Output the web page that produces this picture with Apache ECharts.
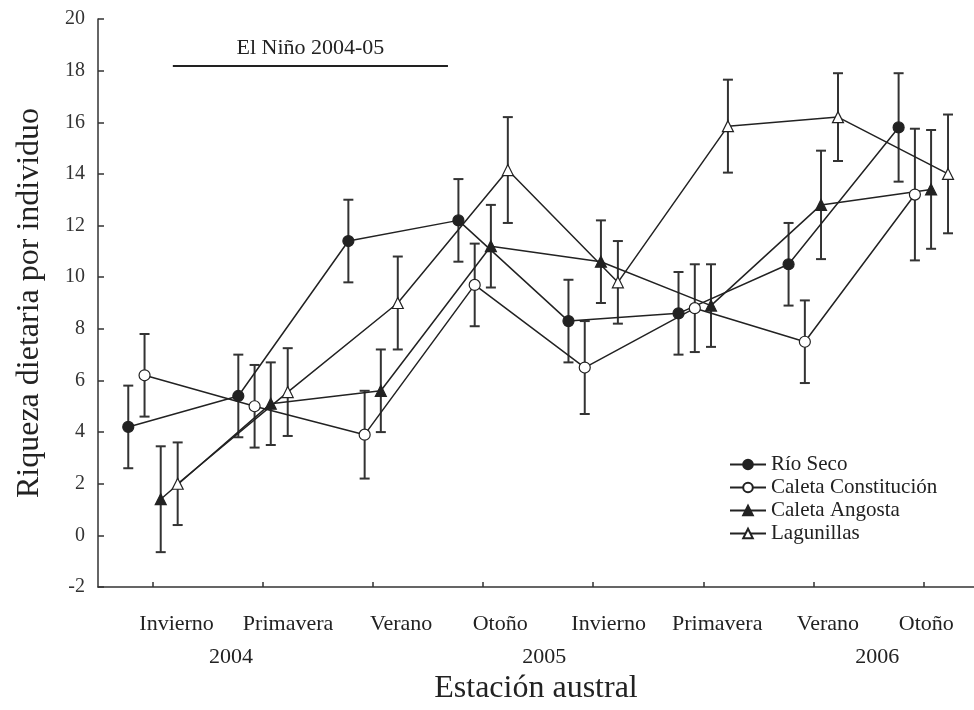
<!DOCTYPE html>
<html>
<head>
<meta charset="utf-8">
<script src="https://cdn.jsdelivr.net/npm/echarts@6/dist/echarts.min.js"></script>
<style>html,body{margin:0;padding:0;background:#fff}#c{width:974px;height:710px}</style>
</head>
<body>
<div id="c"></div>
<script>
// ---- data ----
const seasons = ['Invierno','Primavera','Verano','Otoño','Invierno','Primavera','Verano','Otoño'];
const years = ['2004','2005','2006'];
const seriesNames = ['Río Seco','Caleta Constitución','Caleta Angosta','Lagunillas'];
const rioSeco      = [4.2, 5.4, 11.4, 12.2, 8.3, 8.6, 10.5, 15.8];
const rioSecoSE    = [1.6, 1.6, 1.6, 1.6, 1.6, 1.6, 1.6, 2.1];
const caletaConst  = [6.2, 5.0, 3.9, 9.7, 6.5, 8.8, 7.5, 13.2];
const caletaConstSE= [1.6, 1.6, 1.7, 1.6, 1.8, 1.7, 1.6, 2.55];
const caletaAng    = [1.4, 5.1, 5.6, 11.2, 10.6, 8.9, 12.8, 13.4];
const caletaAngSE  = [2.05, 1.6, 1.6, 1.6, 1.6, 1.6, 2.1, 2.3];
const lagunillas   = [2.0, 5.55, 9.0, 14.15, 9.8, 15.85, 16.2, 14.0];
const lagunillasSE = [1.6, 1.7, 1.8, 2.05, 1.6, 1.8, 1.7, 2.3];
const ninoLabel = 'El Niño 2004-05';
const ninoSpan = [0.18, 2.68];   // period along the season axis
const ninoLevel = 18.2;
const yTicksMin = -2, yTicksMax = 20, yTicksStep = 2;

// ---- layout constants ----
const dodge = [-0.225, -0.077, 0.07, 0.224];
const seasonLabelPos = [0.214, 1.227, 2.255, 3.155, 4.14, 5.127, 6.132, 7.027];
const yearLabelPos = [0.709, 3.555, 6.58];
const FONT = '"Liberation Serif", "DejaVu Serif", serif';
const INK = '#222';

const means = [rioSeco, caletaConst, caletaAng, lagunillas];
const ses = [rioSecoSE, caletaConstSE, caletaAngSE, lagunillasSE];
const symbols = ['circle','circle','triangle','triangle'];
const fills = [INK, '#fff', INK, '#fff'];

function nearestLabel(v, pos, labels){
  let best = 0, d = Infinity;
  pos.forEach((p,i)=>{ if (Math.abs(p-v) < d){ d = Math.abs(p-v); best = i; } });
  return labels[best];
}

const xMin = -0.5, xMax = 7.46;
const series = [];
means.forEach((arr, s) => {
  series.push({
    type: 'custom',
    xAxisIndex: 0,
    silent: true,
    z: 2,
    data: arr.map((v,i)=>[i + dodge[s], v - ses[s][i], v + ses[s][i]]),
    encode: {x: 0, y: [1, 2]},
    renderItem: function(params, api){
      const x = api.value(0);
      const lo = api.coord([x, api.value(1)]);
      const hi = api.coord([x, api.value(2)]);
      const w = 5;
      const st = {stroke: '#333', lineWidth: 2};
      return {type: 'group', children: [
        {type: 'line', shape: {x1: lo[0], y1: lo[1], x2: hi[0], y2: hi[1]}, style: st},
        {type: 'line', shape: {x1: lo[0]-w, y1: lo[1], x2: lo[0]+w, y2: lo[1]}, style: st},
        {type: 'line', shape: {x1: hi[0]-w, y1: hi[1], x2: hi[0]+w, y2: hi[1]}, style: st}
      ]};
    }
  });
});
means.forEach((arr, s) => {
  const ser = {
    name: seriesNames[s],
    type: 'line',
    xAxisIndex: 0,
    z: 3,
    data: arr.map((v,i)=>[i + dodge[s], v]),
    symbol: symbols[s],
    symbolSize: 11,
    showAllSymbol: true,
    lineStyle: {color: INK, width: 1.5},
    itemStyle: {color: fills[s], borderColor: INK, borderWidth: 1.2, opacity: 1}
  };
  if (s === 0) {
    ser.markLine = {
      silent: true,
      symbol: ['none','none'],
      lineStyle: {color: INK, width: 2, type: 'solid'},
      label: {show: true, formatter: ninoLabel, position: 'insideMiddleTop', distance: 6,
              fontFamily: FONT, fontSize: 22, color: INK},
      data: [[{coord: [ninoSpan[0], ninoLevel]}, {coord: [ninoSpan[1], ninoLevel]}]]
    };
  }
  series.push(ser);
});

const chart = echarts.init(document.getElementById('c'), null, {renderer: 'canvas'});
chart.setOption({
  animation: false,
  backgroundColor: '#fff',
  grid: {left: 98, right: 0, top: 19, bottom: 119},
  legend: {
    orient: 'vertical', left: 729, top: 454, padding: 0,
    itemWidth: 36, itemHeight: 12, itemGap: 2,
    textStyle: {fontFamily: FONT, fontSize: 21, color: INK, lineHeight: 21},
    data: seriesNames
  },
  xAxis: [
    {
      type: 'value', min: xMin, max: xMax, position: 'bottom',
      axisLine: {show: true, onZero: false, lineStyle: {color: '#333', width: 1.5}},
      axisTick: {show: true, inside: true, length: 5, lineStyle: {color: '#333', width: 1.5},
                 customValues: seasons.map((_, i) => i)},
      axisLabel: {show: false},
      splitLine: {show: false},
      name: 'Estación austral', nameLocation: 'middle', nameGap: 86,
      nameTextStyle: {fontFamily: FONT, fontSize: 32, color: INK}
    },
    {
      type: 'value', min: xMin, max: xMax, position: 'bottom', offset: 0,
      axisLine: {show: false, onZero: false}, axisTick: {show: false}, splitLine: {show: false},
      axisLabel: {show: true, customValues: seasonLabelPos, margin: 26,
                  formatter: v => nearestLabel(v, seasonLabelPos, seasons),
                  fontFamily: FONT, fontSize: 22, color: INK}
    },
    {
      type: 'value', min: xMin, max: xMax, position: 'bottom', offset: 0,
      axisLine: {show: false, onZero: false}, axisTick: {show: false}, splitLine: {show: false},
      axisLabel: {show: true, customValues: yearLabelPos, margin: 59,
                  formatter: v => nearestLabel(v, yearLabelPos, years),
                  fontFamily: FONT, fontSize: 22, color: INK}
    }
  ],
  yAxis: {
    type: 'value', min: yTicksMin, max: yTicksMax, interval: yTicksStep,
    axisLine: {show: true, onZero: false, lineStyle: {color: '#333', width: 1.5}},
    axisTick: {show: true, inside: true, length: 6, lineStyle: {color: '#333', width: 1.5}},
    axisLabel: {fontFamily: FONT, fontSize: 20, color: '#333', margin: 13},
    splitLine: {show: false},
    name: 'Riqueza dietaria por individuo', nameLocation: 'middle', nameGap: 52,
    nameTextStyle: {fontFamily: FONT, fontSize: 32, color: INK}
  },
  series: series
});
</script>
</body>
</html>
